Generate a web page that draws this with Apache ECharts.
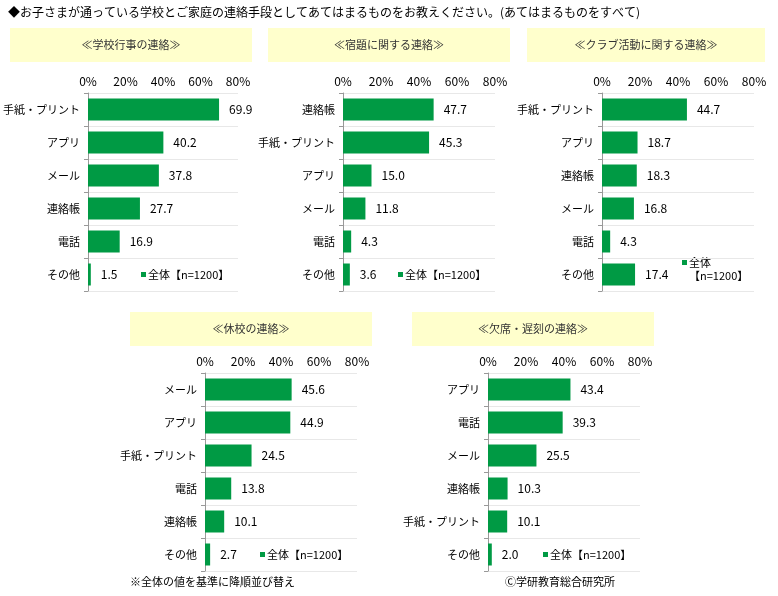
<!DOCTYPE html>
<html><head><meta charset="utf-8">
<script src="https://cdn.jsdelivr.net/npm/echarts@6/dist/echarts.min.js"></script>
<style>html,body{margin:0;background:#fff}#c{width:778px;height:596px}</style>
</head><body><div id="c"></div>
<script>
// データ
var titles = ['≪学校行事の連絡≫', '≪宿題に関する連絡≫', '≪クラブ活動に関する連絡≫', '≪休校の連絡≫', '≪欠席・遅刻の連絡≫'];
var cats1 = ['手紙・プリント', 'アプリ', 'メール', '連絡帳', '電話', 'その他'];
var vals1 = [69.9, 40.2, 37.8, 27.7, 16.9, 1.5];
var cats2 = ['連絡帳', '手紙・プリント', 'アプリ', 'メール', '電話', 'その他'];
var vals2 = [47.7, 45.3, 15.0, 11.8, 4.3, 3.6];
var cats3 = ['手紙・プリント', 'アプリ', '連絡帳', 'メール', '電話', 'その他'];
var vals3 = [44.7, 18.7, 18.3, 16.8, 4.3, 17.4];
var cats4 = ['メール', 'アプリ', '手紙・プリント', '電話', '連絡帳', 'その他'];
var vals4 = [45.6, 44.9, 24.5, 13.8, 10.1, 2.7];
var cats5 = ['アプリ', '電話', 'メール', '連絡帳', '手紙・プリント', 'その他'];
var vals5 = [43.4, 39.3, 25.5, 10.3, 10.1, 2.0];
var ticks = [0, 20, 40, 60, 80];

var cats = [cats1, cats2, cats3, cats4, cats5];
var vals = [vals1, vals2, vals3, vals4, vals5];
// パネル位置 [見出しx, 見出しy, 見出し幅, 0%のx, 描画上端]
var panels = [[10, 28, 242, 86, 93], [268, 28, 242, 343, 93], [527, 28, 238, 602, 93], [130, 312, 242, 205, 373], [412, 312, 242, 488, 373]];
var font = '"Noto Sans CJK JP", sans-serif';
var green = '#009a44';

var grid = [], xAxis = [], yAxis = [], series = [], graphic = [];
graphic.push({type: 'text', left: 8, top: 6, style: {text: '◆お子さまが通っている学校とご家庭の連絡手段としてあてはまるものをお教えください。(あてはまるものをすべて)', font: '12px ' + font, fill: '#000'}});
for (var i = 0; i < 5; i++) {
	var p = panels[i];
	grid.push({left: p[3], top: p[4], width: 152, height: 198});
	xAxis.push({gridIndex: i, type: 'value', position: 'top', min: 0, max: 80, interval: 20,
		axisLabel: {formatter: '{value}%', fontFamily: font, fontSize: 12, color: '#000', margin: 6},
		axisLine: {show: false}, axisTick: {show: false}, splitLine: {show: false}});
	yAxis.push({gridIndex: i, type: 'category', inverse: true, data: cats[i],
		axisLabel: {fontFamily: font, fontSize: 11, color: '#000', margin: 8},
		axisLine: {show: true, lineStyle: {color: '#999'}}, axisTick: {show: true, length: 4, lineStyle: {color: '#999'}},
		splitLine: {show: true, lineStyle: {color: '#e8e8e8'}}});
	series.push({type: 'bar', xAxisIndex: i, yAxisIndex: i, data: vals[i], barWidth: 22,
		itemStyle: {color: green},
		label: {show: true, position: 'right', distance: 10, formatter: function (d) { return d.value.toFixed(1); },
			fontFamily: font, fontSize: 12, color: '#000'}});
	graphic.push({type: 'rect', shape: {x: p[0], y: p[1], width: p[2], height: 34}, style: {fill: '#ffffcc'}});
	graphic.push({type: 'text', x: p[0] + p[2] / 2, y: p[1] + 17, style: {text: titles[i], font: '11px ' + font, fill: '#333', align: 'center', verticalAlign: 'middle'}});
	// 凡例
	var lx = p[3] + 55, ly = p[4] + 182;
	var ltxt = '全体【n=1200】';
	if (i == 2) { lx = p[3] + 80; ly = p[4] + 170; ltxt = '全体\n【n=1200】'; }
	graphic.push({type: 'rect', shape: {x: lx, y: ly - 3, width: 5, height: 5}, style: {fill: green}});
	graphic.push({type: 'text', x: lx + 7, y: ly - 7, style: {text: ltxt, font: '11px ' + font, fill: '#000', lineHeight: 13}});
}
graphic.push({type: 'text', left: 130, top: 576, style: {text: '※全体の値を基準に降順並び替え', font: '11px ' + font, fill: '#000'}});
graphic.push({type: 'text', left: 505, top: 576, style: {text: 'Ⓒ学研教育総合研究所', font: '11px ' + font, fill: '#000'}});

var myChart = echarts.init(document.getElementById('c'));
myChart.setOption({animation: false, grid: grid, xAxis: xAxis, yAxis: yAxis, series: series, graphic: graphic});
</script></body></html>
